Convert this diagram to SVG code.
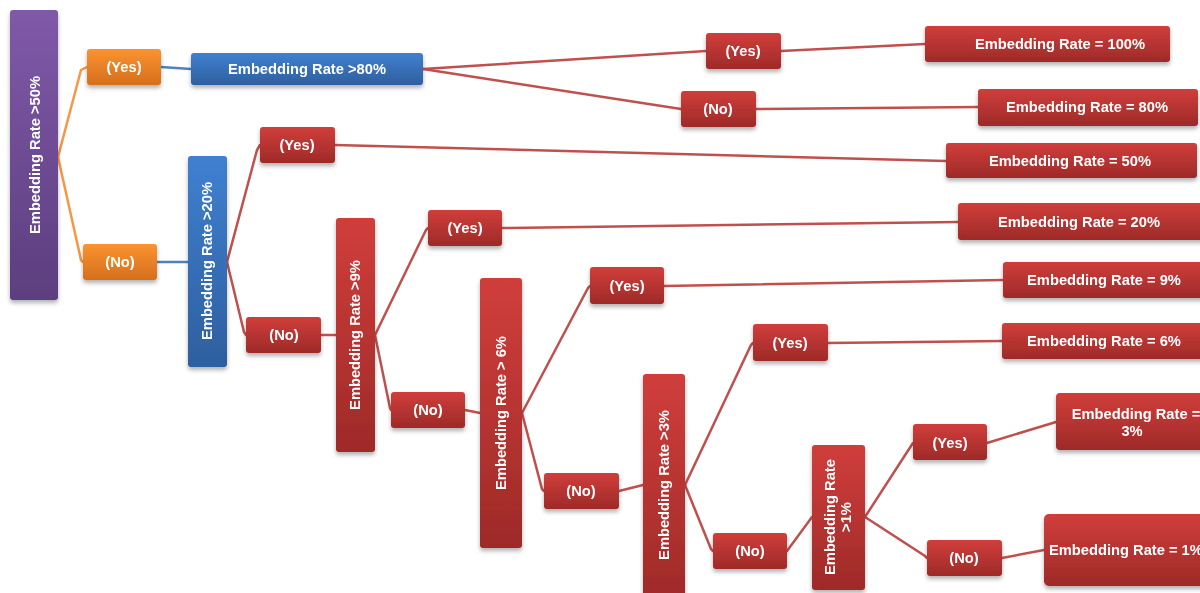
<svg xmlns="http://www.w3.org/2000/svg" width="1200" height="593" viewBox="0 0 1200 593">
<defs>
<linearGradient id="gP" x1="0" y1="0" x2="0" y2="1"><stop offset="0" stop-color="#8059a9"/><stop offset="1" stop-color="#5c3e7e"/></linearGradient>
<linearGradient id="gO" x1="0" y1="0" x2="0" y2="1"><stop offset="0" stop-color="#fb9330"/><stop offset="1" stop-color="#d46f1c"/></linearGradient>
<linearGradient id="gB" x1="0" y1="0" x2="0" y2="1"><stop offset="0" stop-color="#3f80d0"/><stop offset="1" stop-color="#2e5f9f"/></linearGradient>
<linearGradient id="gR" x1="0" y1="0" x2="0" y2="1"><stop offset="0" stop-color="#d03e3b"/><stop offset="1" stop-color="#9e2a28"/></linearGradient>
<filter id="sh" x="-20%" y="-20%" width="140%" height="150%"><feDropShadow dx="0" dy="3" stdDeviation="2" flood-color="#000" flood-opacity="0.3"/></filter>
<style>
.n{filter:url(#sh)}
.p{fill:url(#gP)}.o{fill:url(#gO)}.b{fill:url(#gB)}.r{fill:url(#gR)}
text{font-family:"Liberation Sans",Arial,sans-serif;font-weight:bold;font-size:14.7px;fill:#fff;text-anchor:middle;dominant-baseline:central}
.c line,.c polyline{fill:none;stroke-width:2.5;stroke-linecap:round}
.lo{stroke:#f79646}.lb{stroke:#4f81bd}.lr{stroke:#c0504d}
</style>
</defs>
<g class="c" id="connectors">
<polyline class="lo" points="58,157 81,70 87,67"/>
<polyline class="lo" points="58,157 81,260 83,262"/>
<line class="lb" x1="161" y1="67" x2="191" y2="69"/>
<line class="lb" x1="157" y1="262" x2="188" y2="262"/>
<polyline class="lr" points="227,262 257,150 260,145"/>
<polyline class="lr" points="227,262 244,332 246,335"/>
<line class="lr" x1="335" y1="145" x2="946" y2="161"/>
<line class="lr" x1="321" y1="335" x2="336" y2="335"/>
<polyline class="lr" points="375,335 426,230 428,228"/>
<polyline class="lr" points="375,335 390,408 391,410"/>
<line class="lr" x1="502" y1="228" x2="958" y2="222"/>
<line class="lr" x1="465" y1="410" x2="480" y2="413"/>
<polyline class="lr" points="522,413 588,288 590,286"/>
<polyline class="lr" points="522,413 542,489 544,491"/>
<line class="lr" x1="664" y1="286" x2="1003" y2="280"/>
<line class="lr" x1="619" y1="491" x2="643" y2="485"/>
<polyline class="lr" points="685,485 751,345 753,343"/>
<polyline class="lr" points="685,485 711,549 713,551"/>
<line class="lr" x1="828" y1="343" x2="1002" y2="341"/>
<line class="lr" x1="787" y1="551" x2="812" y2="517"/>
<polyline class="lr" points="865,517 911,446 913,443"/>
<polyline class="lr" points="865,517 925,556 927,558"/>
<line class="lr" x1="987" y1="443" x2="1056" y2="422"/>
<line class="lr" x1="1002" y1="558" x2="1044" y2="550"/>
<line class="lr" x1="423" y1="69" x2="706" y2="51"/>
<line class="lr" x1="423" y1="69" x2="681" y2="109"/>
<line class="lr" x1="781" y1="51" x2="925" y2="44"/>
<line class="lr" x1="756" y1="109" x2="978" y2="107"/>
</g>
<g id="n50" class="n"><rect class="p" x="10" y="10" width="48" height="290" rx="3"/><text transform="rotate(-90 35 155)" x="35" y="155">Embedding Rate &gt;50%</text></g>
<g id="nYes1" class="n"><rect class="o" x="87" y="49" width="74" height="36" rx="3"/><text x="124" y="67">(Yes)</text></g>
<g id="nNo1" class="n"><rect class="o" x="83" y="244" width="74" height="36" rx="3"/><text x="120" y="262">(No)</text></g>
<g id="n80" class="n"><rect class="b" x="191" y="53" width="232" height="32" rx="3"/><text x="307" y="69">Embedding Rate &gt;80%</text></g>
<g id="n20" class="n"><rect class="b" x="188" y="156" width="39" height="211" rx="3"/><text transform="rotate(-90 207 261)" x="207" y="261">Embedding Rate &gt;20%</text></g>
<g id="nYes2" class="n"><rect class="r" x="260" y="127" width="75" height="36" rx="3"/><text x="297" y="145">(Yes)</text></g>
<g id="nNo2" class="n"><rect class="r" x="246" y="317" width="75" height="36" rx="3"/><text x="284" y="335">(No)</text></g>
<g id="n9" class="n"><rect class="r" x="336" y="218" width="39" height="234" rx="3"/><text transform="rotate(-90 355 335)" x="355" y="335">Embedding Rate &gt;9%</text></g>
<g id="nYes3" class="n"><rect class="r" x="428" y="210" width="74" height="36" rx="3"/><text x="465" y="228">(Yes)</text></g>
<g id="nNo3" class="n"><rect class="r" x="391" y="392" width="74" height="36" rx="3"/><text x="428" y="410">(No)</text></g>
<g id="n6" class="n"><rect class="r" x="480" y="278" width="42" height="270" rx="3"/><text transform="rotate(-90 501 413)" x="501" y="413">Embedding Rate &gt; 6%</text></g>
<g id="nYes4" class="n"><rect class="r" x="590" y="267" width="74" height="37" rx="3"/><text x="627" y="286">(Yes)</text></g>
<g id="nNo4" class="n"><rect class="r" x="544" y="473" width="75" height="36" rx="3"/><text x="581" y="491">(No)</text></g>
<g id="n3" class="n"><rect class="r" x="643" y="374" width="42" height="230" rx="3"/><text transform="rotate(-90 664 485)" x="664" y="485">Embedding Rate &gt;3%</text></g>
<g id="nYes5" class="n"><rect class="r" x="753" y="324" width="75" height="37" rx="3"/><text x="790" y="343">(Yes)</text></g>
<g id="nNo5" class="n"><rect class="r" x="713" y="533" width="74" height="36" rx="3"/><text x="750" y="551">(No)</text></g>
<g id="n1" class="n"><rect class="r" x="812" y="445" width="53" height="145" rx="3"/><text transform="rotate(-90 838 517)" x="838" y="517"><tspan x="838" dy="-8">Embedding Rate</tspan><tspan x="838" dy="16">&gt;1%</tspan></text></g>
<g id="nYes6" class="n"><rect class="r" x="913" y="424" width="74" height="36" rx="3"/><text x="950" y="443">(Yes)</text></g>
<g id="nNo6" class="n"><rect class="r" x="927" y="540" width="75" height="36" rx="3"/><text x="964" y="558">(No)</text></g>
<g id="nE3" class="n"><rect class="r" x="1056" y="393" width="160" height="57" rx="4"/><text x="1136" y="414">Embedding Rate =</text><text x="1132" y="431">3%</text></g>
<g id="nE1" class="n"><rect class="r" x="1044" y="514" width="170" height="72" rx="5"/><text x="1049" y="550" style="text-anchor:start">Embedding Rate = 1%</text></g>
<g id="nYes7" class="n"><rect class="r" x="706" y="33" width="75" height="36" rx="3"/><text x="743" y="51">(Yes)</text></g>
<g id="nNo7" class="n"><rect class="r" x="681" y="91" width="75" height="36" rx="3"/><text x="718" y="109">(No)</text></g>
<g id="nE100" class="n"><rect class="r" x="925" y="26" width="245" height="36" rx="3"/><text x="1060" y="44">Embedding Rate = 100%</text></g>
<g id="nE80" class="n"><rect class="r" x="978" y="89" width="220" height="37" rx="3"/><text x="1087" y="107">Embedding Rate = 80%</text></g>
<g id="nE50" class="n"><rect class="r" x="946" y="143" width="251" height="35" rx="3"/><text x="1070" y="161">Embedding Rate = 50%</text></g>
<g id="nE20" class="n"><rect class="r" x="958" y="203" width="250" height="37" rx="3"/><text x="1079" y="222">Embedding Rate = 20%</text></g>
<g id="nE9" class="n"><rect class="r" x="1003" y="262" width="210" height="36" rx="3"/><text x="1104" y="280">Embedding Rate = 9%</text></g>
<g id="nE6" class="n"><rect class="r" x="1002" y="323" width="210" height="36" rx="3"/><text x="1104" y="341">Embedding Rate = 6%</text></g>
</svg>
